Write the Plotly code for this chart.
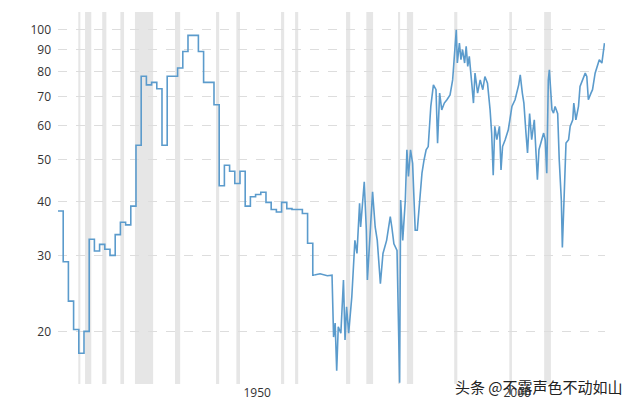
import plotly.graph_objects as go

step_start = 1911.7
step_vals = [38,29,23.5,20.2,17.8,20,32.7,30.7,31.8,31,30,33.5,35.8,35.3,39,54,78,74.5,75.5,73,
             54,78,78,81.5,89,97,97,89,75.5,75.5,67,43.5,48.5,47,44,47,39,41,41.5,42,
             39.8,38.3,37.8,39.8,38.5,38.3,38.3,37.5,32,27]
step_years = [step_start + i for i in range(len(step_vals))]

m_years = [1961.0,1962.1,1963.5,1964.4,1964.7,1965.0,1965.3,1965.6,1966.1,1966.6,1966.9,1967.2,1967.6,1968.2,1968.8,
           1969.2,1969.7,1969.9,1970.6,1971.0,1971.2,1971.7,1972.2,1972.7,1973.1,1973.7,1974.2,1974.9,1975.6,
           1975.9,1976.3,1976.9,1977.2,1977.4,1977.6,1978.0,1978.5,1978.8,1979.1,1979.5,1979.9,1980.4,1980.8,
           1981.3,1981.7,1982.1,1982.5,1982.9,1983.4,1983.9,1984.4,1984.7,1985.1,1985.5,1986.0,1986.5,1987.1,
           1987.6,1987.9,1988.3,1988.5,1988.9,1989.2,1989.5,1989.9,1990.2,1990.5,1990.8,1991.3,1991.6,1991.9,
           1992.4,1992.9,1993.4,1993.8,1994.3,1994.8,1995.1,1995.4,1995.7,1996.1,1996.6,1996.9,1997.2,1997.7,
           1998.3,1999.0,1999.6,2000.3,2000.6,2001.0,2001.3,2001.7,2002.0,2002.4,2002.8,2003.3,2003.7,2003.9,
           2004.2,2004.6,2005.1,2005.4,2005.7,2006.0,2006.2,2006.7,2007.0,2007.3,2007.8,2008.1,2008.5,2008.7,
           2009.0,2009.4,2009.9,2010.2,2010.7,2010.9,2011.3,2011.8,2012.1,2012.6,2013.1,2013.4,2013.7,2014.2,
           2014.5,2015.0,2015.4,2015.8,2016.3,2016.6,2016.8]
m_vals = [27.0,27.2,26.9,27.0,19.4,20.9,16.2,20.5,19.8,26.3,19.1,22.8,19.8,24.0,32.5,
          30.3,39.6,34.9,44.4,34.3,26.3,33.7,42.1,34.9,32.5,25.8,30.3,32.5,36.9,
          34.9,31.9,30.8,21.2,15.2,40.3,32.5,40.3,52.7,45.7,52.7,49.0,34.3,
          34.3,41.8,46.5,49.9,52.7,53.6,66.4,74.5,72.6,54.6,71.3,65.2,67.6,68.8,70.6,
          76.5,88.3,100,83.7,93.1,85.2,89.9,83.7,91.5,82.2,86.7,74.5,67.6,79.3,
          71.3,76.5,72.6,77.9,75.2,65.2,57.6,46.0,59.7,55.6,59.7,47.3,
          53.6,55.6,58.6,66.4,68.8,74.5,78.6,71.3,67.6,57.6,51.8,
          63.9,55.6,61.8,48.2,44.9,52.7,54.6,57.6,55.6,46.5,76.5,80.7,
          65.2,64.1,66.4,63.9,49.9,40.3,31.3,40.3,54.6,55.6,59.7,61.8,67.6,61.8,
          66.4,73.9,76.5,79.3,77.9,68.8,71.3,72.6,79.3,82.2,85.2,83.7,91.5,93.1]

rec_start = [1915.6,1916.9,1920.2,1923.7,1926.5,1934.2,1942.1,1946.0,1954.6,1957.3,1967.1,1971.0,1977.1,1978.8,1987.9,1998.5,2005.2]
rec_end   = [1916.0,1918.1,1921.0,1924.4,1930.0,1935.2,1942.7,1946.7,1955.2,1957.9,1967.9,1972.3,1977.5,1980.0,1988.5,1999.0,2006.5]

y_ticks = [20,30,40,50,60,70,80,90,100]
x_ticks = [1950,2000]

color = "#5b9bcc"
fig = go.Figure()
fig.add_trace(go.Scatter(x=step_years + [m_years[0]], y=step_vals + [step_vals[-1]], mode="lines",
                         line=dict(color=color, width=1.6, shape="hv"), hoverinfo="skip"))
fig.add_trace(go.Scatter(x=m_years, y=m_vals, mode="lines", line=dict(color=color, width=1.6), hoverinfo="skip"))
for s, e in zip(rec_start, rec_end):
    fig.add_vrect(x0=s, x1=e, fillcolor="#e6e6e6", opacity=1, line_width=0, layer="below")

fig.update_layout(
    width=640, height=404, showlegend=False,
    margin=dict(l=50, r=43, t=4, b=28, autoexpand=False),
    paper_bgcolor="white", plot_bgcolor="white",
    font=dict(family="Open Sans, DejaVu Sans", size=12, color="#333"),
    xaxis=dict(range=[1911.7, 2016.9], tickvals=x_ticks, showgrid=False, zeroline=False, ticks="",
               showline=False, automargin=False),
    yaxis=dict(type="log", range=[1.179, 2.041], tickvals=y_ticks, ticktext=[str(v) for v in y_ticks],
               showgrid=True, gridcolor="#dddddd", griddash="dash", zeroline=False, ticks="",
               ticklabelstandoff=6, automargin=False),
    annotations=[dict(text="头条 @不露声色不动如山", xref="paper", yref="paper", x=1.037, y=-0.006,
                      xanchor="right", yanchor="middle", showarrow=False,
                      font=dict(family="Noto Sans CJK SC", size=15, color="#222"))],
)
fig.write_html("out.html")
